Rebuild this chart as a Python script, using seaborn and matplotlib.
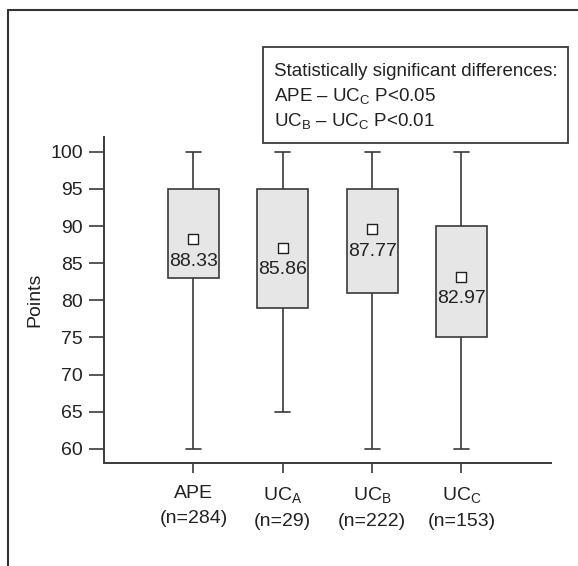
import matplotlib
matplotlib.use("Agg")
import matplotlib.pyplot as plt
import matplotlib.lines as mlines
import seaborn as sns
import pandas as pd

# ---- data ----
groups = ["APE", "UC$_{A}$", "UC$_{B}$", "UC$_{C}$"]
n_sizes = [284, 29, 222, 153]
mins = [60, 65, 60, 60]
q1 = [83, 79, 81, 75]
q3 = [95, 95, 95, 90]
maxs = [100, 100, 100, 100]
means = [88.33, 85.86, 87.77, 82.97]
marker_y = [88.2, 87.1, 89.6, 83.2]
yticks = [60, 65, 70, 75, 80, 85, 90, 95, 100]
note_lines = ["Statistically significant differences:",
              "APE – UC$_{C}$ P<0.05",
              "UC$_{B}$ – UC$_{C}$ P<0.01"]

sns.set_theme(style="white")
FONT = ["Liberation Sans", "DejaVu Sans"]
plt.rcParams["font.family"] = FONT
plt.rcParams["mathtext.fontset"] = "custom"
plt.rcParams["mathtext.rm"] = FONT[0]
plt.rcParams["mathtext.it"] = FONT[0]
plt.rcParams["mathtext.default"] = "regular"

labels = [f"{g}\n(n={n})" for g, n in zip(groups, n_sizes)]

# five-number summaries -> rows (min, q1, centre, q3, max) so quartiles match
rows = []
for lab, a, b, m, c, d in zip(labels, mins, q1, means, q3, maxs):
    for v in (a, b, m, c, d):
        rows.append({"group": lab, "Points": v})
df = pd.DataFrame(rows)
dm = pd.DataFrame({"group": labels, "marker": marker_y, "mean": means})

fig = plt.figure(figsize=(5.78, 5.66), dpi=100)
ax = fig.add_axes([0.180, 0.182, 0.773, 0.576])

edge = "#3a3a3a"
txt = "#222222"
sns.boxplot(data=df, x="group", y="Points", order=labels, whis=(0, 100),
            width=0.57, color="#e6e6e6", linecolor=edge, linewidth=1.2,
            fill=True, showfliers=False, ax=ax,
            medianprops={"visible": False},
            boxprops={"facecolor": "#e6e6e6", "edgecolor": edge},
            capwidths=0.17)

sns.scatterplot(data=dm, x="group", y="marker", marker="s", s=45,
                color="white", edgecolor="#222222", linewidth=1.0,
                ax=ax, zorder=5, legend=False)

for i, row in dm.iterrows():
    ax.annotate(f"{row['mean']:.2f}", (i, row["marker"]), xytext=(0, -16),
                textcoords="offset points", ha="center", va="center",
                fontsize=14, color=txt)

ax.set_xlim(-1, 4)
ax.set_ylim(58.1, 102)
ax.set_yticks(yticks)
ax.set_yticklabels([str(t) for t in yticks])
ax.set_xlabel("")
ax.set_ylabel("Points", fontsize=14, color=txt, labelpad=5)
ax.tick_params(axis="y", labelsize=14, length=11, width=1.2, color=edge,
               direction="out", pad=4, left=True, labelcolor=txt)
ax.tick_params(axis="x", labelsize=14, length=7, width=1.2, color=edge,
               direction="out", pad=9, bottom=True, labelcolor=txt)
for t in ax.get_xticklabels():
    t.set_linespacing(1.6)
sns.despine(ax=ax)
for s in ("left", "bottom"):
    ax.spines[s].set_color(edge)
    ax.spines[s].set_linewidth(1.4)

# note box
fig.patches.append(plt.Rectangle((263 / 578, 1 - 143 / 566), 305 / 578, 96 / 566,
                                 transform=fig.transFigure, fill=False,
                                 edgecolor=edge, linewidth=1.3))
for k, line in enumerate(note_lines):
    fig.text(274 / 578, 1 - (71 + 25 * k) / 566, line, fontsize=13.5,
             color=txt, va="center", ha="left")

# outer frame (top and left edges)
fig.add_artist(mlines.Line2D([8 / 578, 1], [1 - 10 / 566, 1 - 10 / 566],
                             transform=fig.transFigure, color="#333333", lw=1.5))
fig.add_artist(mlines.Line2D([8 / 578, 8 / 578], [0, 1 - 10 / 566],
                             transform=fig.transFigure, color="#333333", lw=1.5))

fig.savefig("out.png", dpi=100)
